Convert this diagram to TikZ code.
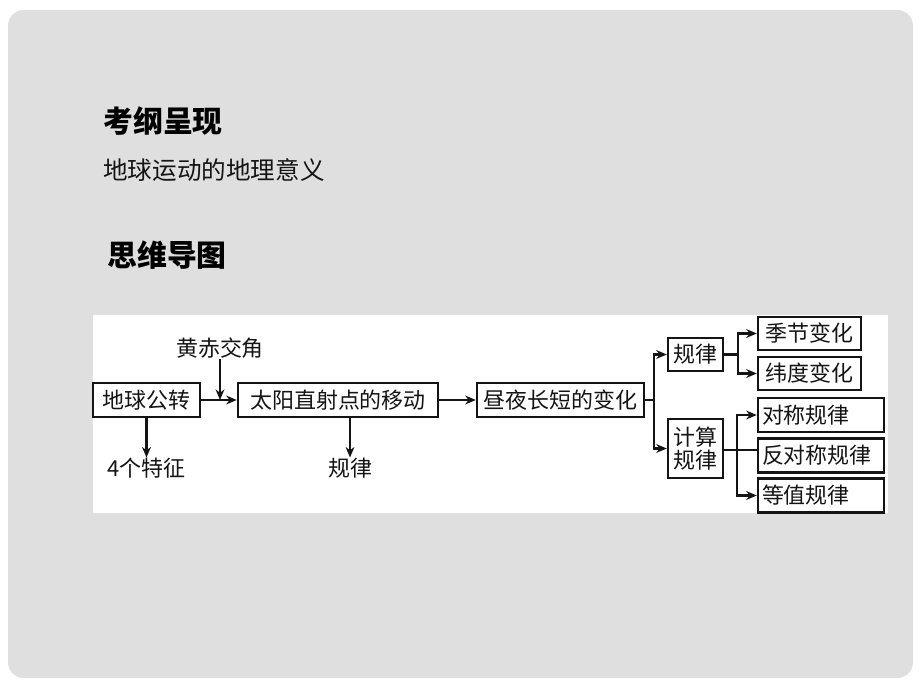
\documentclass[tikz,border=0pt]{standalone}
\usepackage{fontspec}
\setmainfont{Noto Sans CJK SC}
\usetikzlibrary{arrows.meta}
\definecolor{fond}{RGB}{223,223,223}
\definecolor{encre}{RGB}{20,20,20}
\tikzset{
  cadre/.style={draw=encre,line width=1.4pt,inner sep=0pt,minimum height=0.68cm,
    font=\fontsize{12.5}{15}\selectfont,text=encre},
  mot/.style={inner sep=0pt,font=\fontsize{12.5}{15}\selectfont,text=encre},
  fleche/.style={draw=encre,line width=1.3pt,-{Stealth[length=6pt,width=5pt]}},
  trait/.style={draw=encre,line width=1.3pt}
}
\begin{document}
\begin{tikzpicture}[x=0.02cm,y=-0.02cm]
\pgfmathsetmacro{\lignemil}{400}
\fill[white] (0,0) rectangle (920,689);
\fill[fond,rounded corners=9] (8,10) rectangle (913,678);
\fill[white] (93,315) rectangle (888,513);
\node[anchor=west,inner sep=0pt,font=\fontsize{17}{20}\selectfont\bfseries] (titre) at (103,121) {考纲呈现};
\node[anchor=west,inner sep=0pt,font=\fontsize{14}{17}\selectfont,text=encre] (sujet) at (103,170) {地球运动的地理意义};
\node[anchor=west,inner sep=0pt,font=\fontsize{17}{20}\selectfont\bfseries] (carte) at (107,255) {思维导图};

\node[cadre,minimum width=2.14cm] (gongzhuan) at (146.5,\lignemil) {地球公转};
\node[cadre,minimum width=4.0cm] (zhishe) at (338,\lignemil) {太阳直射点的移动};
\node[cadre,minimum width=3.34cm] (zhouye) at (560.5,\lignemil) {昼夜长短的变化};
\node[mot] (jiao) at (220,348) {黄赤交角};
\node[mot] (tezheng) at (146.5,468) {4个特征};
\node[mot] (guilv) at (350,468) {规律};

\node[cadre,minimum width=1.1cm,minimum height=0.66cm] (gl) at (695.5,354.5) {规律};
\node[cadre,minimum width=1.1cm,minimum height=1.18cm,align=center,
  font=\fontsize{12.5}{13.5}\selectfont] (js) at (695.5,448.5) {计算\\规律};
\node[cadre,minimum width=2.06cm,minimum height=0.66cm] (jijie) at (809.5,333.5) {季节变化};
\node[cadre,minimum width=2.06cm,minimum height=0.66cm] (weidu) at (809.5,373.5) {纬度变化};
\foreach \n/\y/\t in {duichen/415/对称规律,fandui/455.5/反对称规律,dengzhi/495.5/等值规律} {
  \node[cadre,text width=2.36cm,inner xsep=0.08cm,align=left] (\n) at (821,\y) {\t};
}

\draw[fleche] (gongzhuan) -- (zhishe);
\draw[fleche] (jiao.south) -- (jiao.south |- gongzhuan.east);
\draw[fleche] (gongzhuan.south) -- (tezheng.north);
\draw[fleche] (zhishe.south -| guilv) -- (guilv.north);
\draw[fleche] (zhishe) -- (zhouye);

\draw[trait] (zhouye.east) -- ++(9,0) coordinate (b1);
\draw[fleche] (b1) |- (gl);
\draw[fleche] (b1) |- (js);
\draw[trait] (gl.east) -- ++(14,0) coordinate (b2);
\draw[fleche] (b2) |- (jijie);
\draw[fleche] (b2) |- (weidu);
\coordinate (b3) at (737,450);
\draw[trait] (js.east |- b3) -- (b3 -| fandui.west);
\draw[fleche] (b3) |- (duichen);
\draw[fleche] (b3) |- (dengzhi);
\end{tikzpicture}
\end{document}
